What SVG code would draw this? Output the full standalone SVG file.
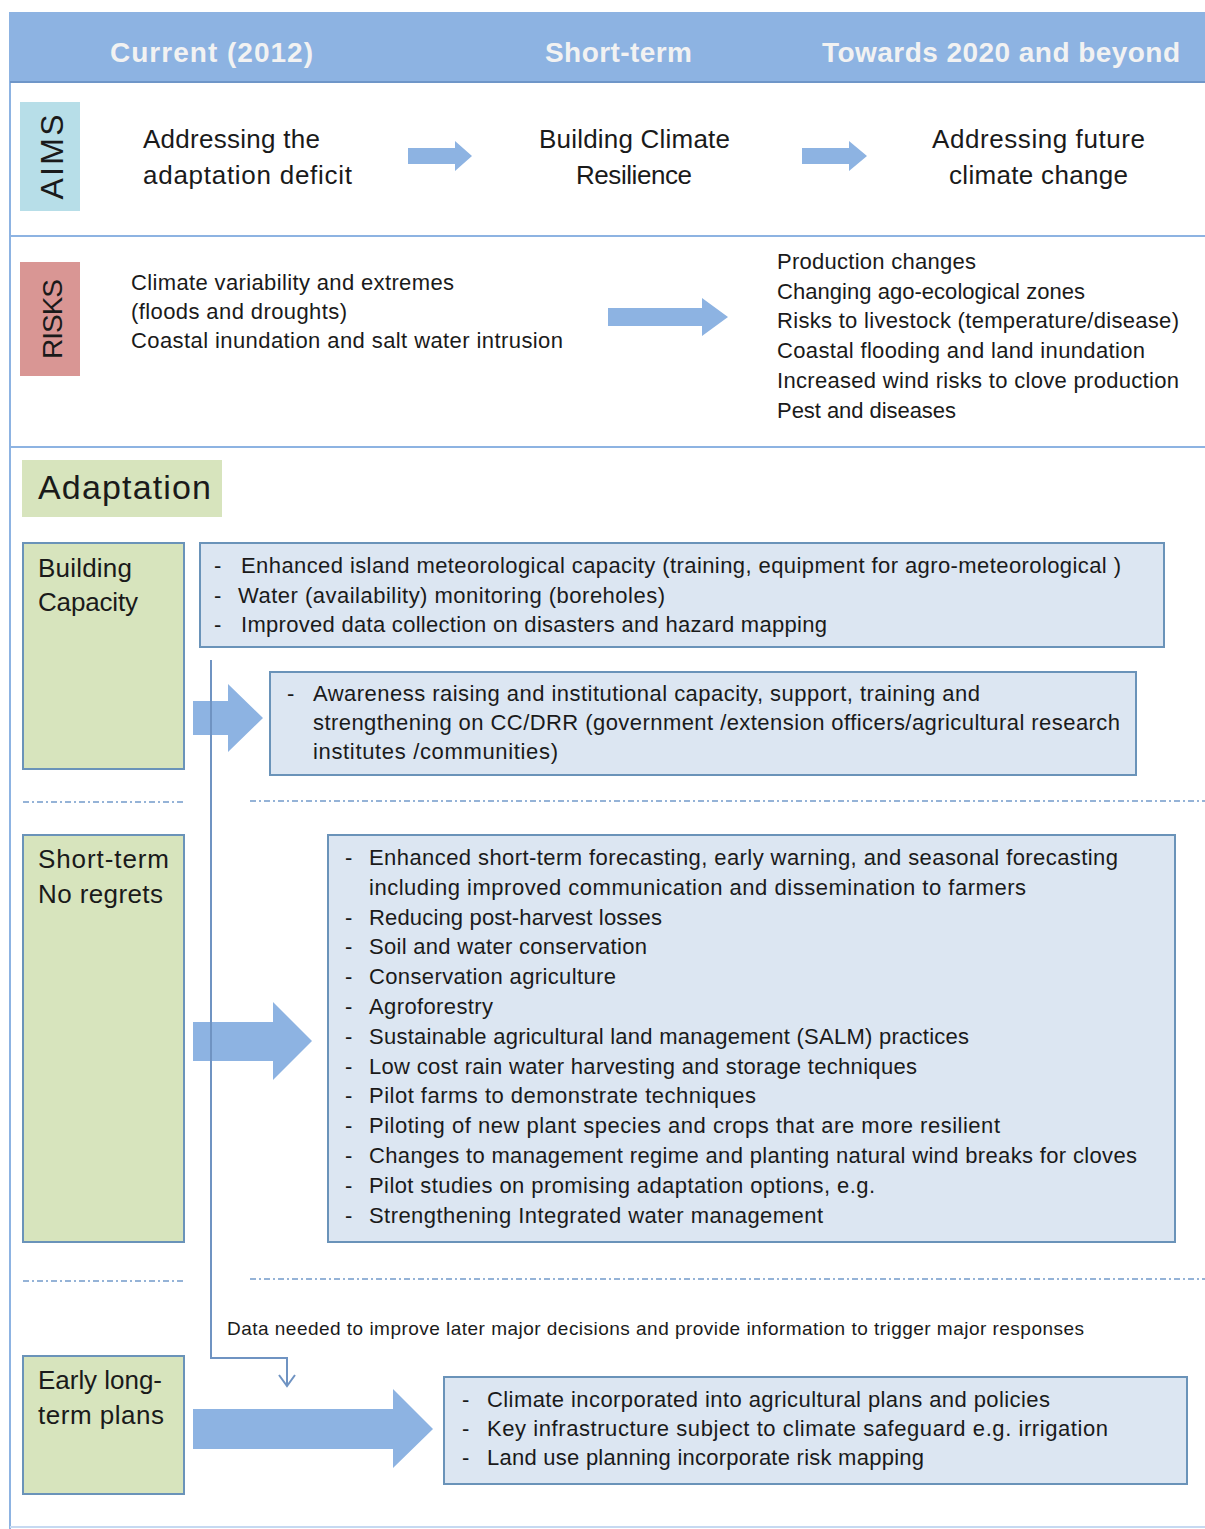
<svg xmlns="http://www.w3.org/2000/svg" width="1205" height="1529" viewBox="0 0 1205 1529">
<style>
  text { font-family: "Liberation Sans", Arial, sans-serif; fill: #1a1a1a; }
  .hdr { font-size: 28px; font-weight: bold; fill: #F2F2F2; }
  .aim { font-size: 26px; }
  .lbl { font-size: 26px; }
  .tag { font-size: 32px; }
  .li { font-size: 22px; }
  .note { font-size: 19px; }
  .green { fill: #D7E4BD; stroke: #6A93B9; stroke-width: 2; }
  .list { fill: #DCE6F2; stroke: #6A93B9; stroke-width: 2; }
  .sep { stroke: #8DB3E2; stroke-width: 2; fill: none; }
  .dd { stroke: #95B3D7; stroke-width: 2; stroke-dasharray: 6 3 2 3; fill: none; }
  .barrow { fill: #8DB3E2; }
  .conn { stroke: #6F93C2; stroke-width: 2; fill: none; }
</style>

<g id="frame">
  <line class="sep" x1="10" y1="12" x2="10" y2="1529"/>
  <line class="sep" x1="10" y1="236" x2="1205" y2="236"/>
  <line class="sep" x1="10" y1="447" x2="1205" y2="447"/>
  <line x1="10" y1="1527" x2="1205" y2="1527" stroke="#C6D9F1" stroke-width="2"/>
</g>

<g id="header">
  <rect x="10" y="12" width="1195" height="70" fill="#8DB3E2"/>
  <line x1="10" y1="82" x2="1205" y2="82" stroke="#6F96C8" stroke-width="2"/>
  <text class="hdr" x="110" y="62" textLength="203">Current (2012)</text>
  <text class="hdr" x="545" y="62" textLength="147">Short-term</text>
  <text class="hdr" x="822" y="62" textLength="358">Towards 2020 and beyond</text>
</g>

<g id="aims-tag">
  <rect x="20" y="102" width="60" height="109" fill="#B7DEE8"/>
  <text class="tag" transform="translate(63,157) rotate(-90)" text-anchor="middle" textLength="85">AIMS</text>
</g>
<g id="aim-current">
  <text class="aim" x="143" y="148" textLength="177">Addressing the</text>
  <text class="aim" x="143" y="184" textLength="209">adaptation deficit</text>
</g>
<g id="aim-short">
  <text class="aim" x="539" y="148" textLength="191">Building Climate</text>
  <text class="aim" x="576" y="184" textLength="116">Resilience</text>
</g>
<g id="aim-future">
  <text class="aim" x="932" y="148" textLength="213">Addressing future</text>
  <text class="aim" x="949" y="184" textLength="179">climate change</text>
</g>

<g id="risks-tag">
  <rect x="20" y="262" width="60" height="114" fill="#D99694"/>
  <text transform="translate(62,319) rotate(-90)" text-anchor="middle" font-size="28" textLength="80">RISKS</text>
</g>
<g id="risks-current">
  <text class="li" x="131" y="290" textLength="323">Climate variability and extremes</text>
  <text class="li" x="131" y="319" textLength="216">(floods and droughts)</text>
  <text class="li" x="131" y="348" textLength="432">Coastal inundation and salt water intrusion</text>
</g>
<g id="risks-future">
  <text class="li" x="777" y="269" textLength="199">Production  changes</text>
  <text class="li" x="777" y="299" textLength="308">Changing ago-ecological zones</text>
  <text class="li" x="777" y="328" textLength="402">Risks to livestock (temperature/disease)</text>
  <text class="li" x="777" y="358" textLength="368">Coastal flooding and land inundation</text>
  <text class="li" x="777" y="388" textLength="402">Increased wind risks to clove production</text>
  <text class="li" x="777" y="418" textLength="179">Pest and diseases</text>
</g>

<g id="adaptation-title">
  <rect x="22" y="460" width="200" height="57" fill="#D7E4BD"/>
  <text x="38" y="499" font-size="34" textLength="173">Adaptation</text>
</g>

<g id="building-capacity">
  <rect class="green" x="23" y="543" width="161" height="226"/>
  <text class="lbl" x="38" y="577" textLength="94">Building</text>
  <text class="lbl" x="38" y="611" textLength="100">Capacity</text>
</g>
<g id="bc-list-1">
  <rect class="list" x="200" y="543" width="964" height="104"/>
  <text class="li" x="214" y="573">-</text>
  <text class="li" x="241" y="573" textLength="880">Enhanced island meteorological capacity (training, equipment for agro-meteorological )</text>
  <text class="li" x="214" y="603">-</text>
  <text class="li" x="238" y="603" textLength="427">Water (availability) monitoring (boreholes)</text>
  <text class="li" x="214" y="632">-</text>
  <text class="li" x="241" y="632" textLength="586">Improved  data collection on disasters and hazard mapping</text>
</g>
<g id="bc-list-2">
  <rect class="list" x="270" y="672" width="866" height="103"/>
  <text class="li" x="287" y="701">-</text>
  <text class="li" x="313" y="701" textLength="667">Awareness  raising and institutional capacity, support, training and</text>
  <text class="li" x="313" y="730" textLength="807">strengthening on CC/DRR  (government /extension officers/agricultural research</text>
  <text class="li" x="313" y="759" textLength="245">institutes /communities)</text>
</g>

<g id="separators">
  <line class="dd" x1="23" y1="802" x2="184" y2="802"/>
  <line class="dd" x1="250" y1="801" x2="1205" y2="801"/>
  <line class="dd" x1="23" y1="1281" x2="184" y2="1281"/>
  <line class="dd" x1="250" y1="1279" x2="1205" y2="1279"/>
</g>

<g id="short-term">
  <rect class="green" x="23" y="835" width="161" height="407"/>
  <text class="lbl" x="38" y="868" textLength="131">Short-term</text>
  <text class="lbl" x="38" y="903" textLength="125">No regrets</text>
</g>
<g id="st-list">
  <rect class="list" x="328" y="835" width="847" height="407"/>
  <text class="li" x="345" y="865">-</text>
  <text class="li" x="369" y="865" textLength="749">Enhanced  short-term  forecasting, early warning, and seasonal forecasting</text>
  <text class="li" x="369" y="895" textLength="657">including improved  communication  and dissemination to farmers</text>
  <text class="li" x="345" y="925">-</text>
  <text class="li" x="369" y="925" textLength="293">Reducing post-harvest losses</text>
  <text class="li" x="345" y="954">-</text>
  <text class="li" x="369" y="954" textLength="278">Soil and water conservation</text>
  <text class="li" x="345" y="984">-</text>
  <text class="li" x="369" y="984" textLength="247">Conservation agriculture</text>
  <text class="li" x="345" y="1014">-</text>
  <text class="li" x="369" y="1014" textLength="124">Agroforestry</text>
  <text class="li" x="345" y="1044">-</text>
  <text class="li" x="369" y="1044" textLength="600">Sustainable agricultural land management (SALM) practices</text>
  <text class="li" x="345" y="1074">-</text>
  <text class="li" x="369" y="1074" textLength="548">Low cost rain water harvesting and storage techniques</text>
  <text class="li" x="345" y="1103">-</text>
  <text class="li" x="369" y="1103" textLength="387">Pilot farms to demonstrate techniques</text>
  <text class="li" x="345" y="1133">-</text>
  <text class="li" x="369" y="1133" textLength="631">Piloting of new plant species and crops  that are more  resilient</text>
  <text class="li" x="345" y="1163">-</text>
  <text class="li" x="369" y="1163" textLength="768">Changes to management regime and planting natural wind breaks for cloves</text>
  <text class="li" x="345" y="1193">-</text>
  <text class="li" x="369" y="1193" textLength="506">Pilot studies on promising adaptation options, e.g.</text>
  <text class="li" x="345" y="1223">-</text>
  <text class="li" x="369" y="1223" textLength="454">Strengthening  Integrated water management</text>
</g>

<g id="data-note">
  <text class="note" x="227" y="1335" textLength="857">Data needed to improve later major decisions  and provide  information to trigger major responses</text>
</g>

<g id="early-long-term">
  <rect class="green" x="23" y="1356" width="161" height="138"/>
  <text class="lbl" x="38" y="1389" textLength="124">Early long-</text>
  <text class="lbl" x="38" y="1424" textLength="126">term plans</text>
</g>
<g id="elt-list">
  <rect class="list" x="444" y="1377" width="743" height="107"/>
  <text class="li" x="462" y="1407">-</text>
  <text class="li" x="487" y="1407" textLength="563">Climate incorporated into agricultural plans and policies</text>
  <text class="li" x="462" y="1436">-</text>
  <text class="li" x="487" y="1436" textLength="621">Key infrastructure  subject to climate safeguard  e.g. irrigation</text>
  <text class="li" x="462" y="1465">-</text>
  <text class="li" x="487" y="1465" textLength="437">Land use planning incorporate  risk mapping</text>
</g>

<g id="connectors">
  <polygon class="barrow" points="408,148 455,148 455,141 472,156 455,171 455,164 408,164"/>
  <polygon class="barrow" points="802,148 849,148 849,141 867,156 849,171 849,164 802,164"/>
  <polygon class="barrow" points="608,308 702,308 702,298 728,317 702,336 702,326 608,326"/>
  <polygon class="barrow" points="193,701 228,701 228,684 263,718 228,752 228,735 193,735"/>
  <polygon class="barrow" points="193,1022 273,1022 273,1002 312,1041 273,1080 273,1061 193,1061"/>
  <polygon class="barrow" points="193,1409 393,1409 393,1389 433,1429 393,1468 393,1449 193,1449"/>
  <polyline class="conn" points="211,660 211,1358 287,1358 287,1386"/>
  <polyline class="conn" points="279,1375 287,1386 295,1375"/>
</g>
</svg>
